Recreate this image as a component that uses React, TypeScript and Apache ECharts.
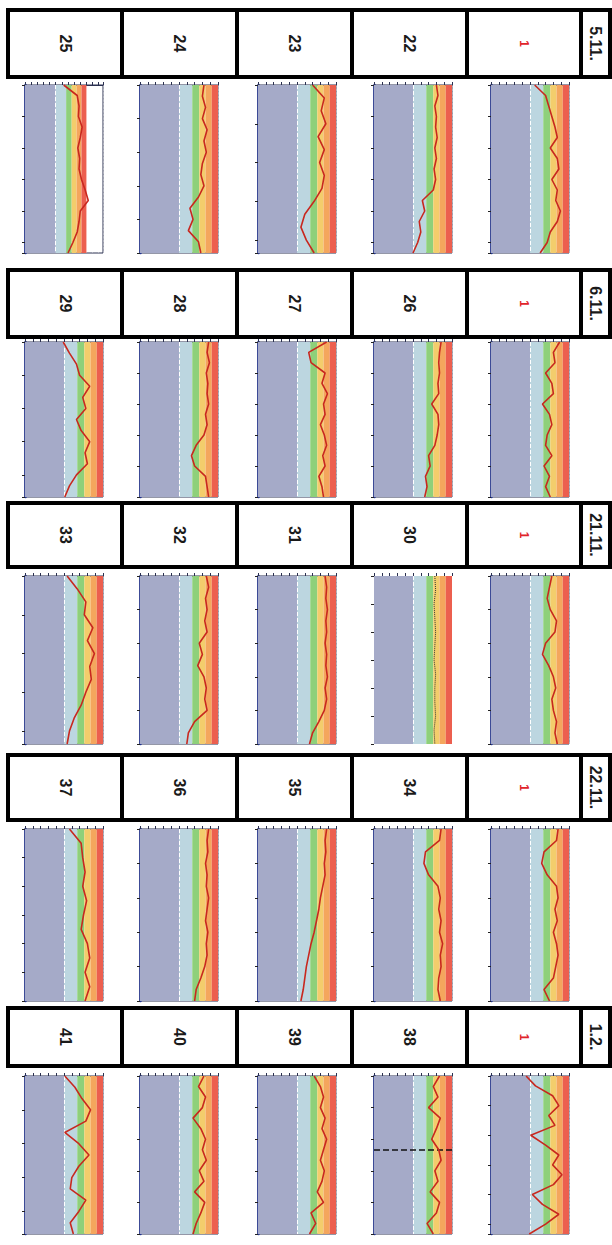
import React, { useEffect, useRef } from "react";
import * as echarts from "echarts";

// Group dates (top-to-bottom bands) and cell labels (left-to-right)
const dates = ["5.11.", "6.11.", "21.11.", "22.11.", "1.2."];
const cellLabels = [
  ["25", "24", "23", "22", "1"],
  ["29", "28", "27", "26", "1"],
  ["33", "32", "31", "30", "1"],
  ["37", "36", "35", "34", "1"],
  ["41", "40", "39", "38", "1"],
];

// Colour zones (value ranges) of every panel
const zoneEdges = [0, 5, 6.7, 7.6, 8.4, 9.2, 10];
const zoneColors = ["#a5aac8", "#bcd6e0", "#8ed07a", "#f3cd6c", "#f4a65d", "#ec5f4f"];

// Traces, read top to bottom in each panel
const tr25 = [6.3, 8.5, 8.8, 8.7, 9.3, 9.0, 8.6, 8.9, 8.8, 9.2, 9.8, 10.3, 9.0, 8.8, 8.5, 7.8, 7.0];
const tr24 = [8.2, 8.0, 8.4, 8.0, 8.6, 8.2, 8.5, 8.0, 7.8, 8.2, 7.5, 6.4, 6.8, 6.2, 7.5, 7.8];
const tr23 = [7.0, 8.5, 8.1, 8.7, 7.7, 8.5, 7.9, 8.5, 8.2, 7.2, 6.0, 5.5, 6.2, 7.2];
const tr22 = [8.0, 8.2, 7.8, 8.0, 7.9, 8.1, 7.8, 8.0, 7.7, 7.9, 7.6, 6.2, 6.5, 5.8, 6.0, 5.6, 5.0];
const tr1a = [5.6, 7.0, 7.4, 7.8, 8.2, 8.5, 7.6, 8.5, 8.7, 7.8, 8.5, 8.3, 8.9, 8.5, 7.6, 7.2, 6.3];

const tr29 = [4.9, 5.7, 6.6, 7.0, 8.3, 7.4, 7.8, 6.6, 7.2, 8.3, 7.7, 8.0, 6.6, 5.7, 5.1];
const tr28 = [8.8, 8.6, 8.9, 8.5, 8.7, 8.6, 8.8, 8.4, 8.6, 8.2, 7.2, 6.6, 7.0, 8.4, 8.6, 8.8];
const tr27 = [8.8, 6.5, 6.8, 8.6, 8.2, 8.9, 8.4, 8.6, 8.0, 8.5, 8.8, 8.3, 8.6, 7.8, 8.2, 8.4];
const tr26 = [8.6, 8.4, 8.3, 8.4, 8.2, 8.3, 7.4, 8.2, 8.3, 8.1, 7.8, 7.0, 7.2, 6.6, 6.8, 6.5];
const tr1b = [8.8, 8.0, 8.2, 7.0, 7.8, 8.0, 6.6, 7.5, 7.8, 7.2, 7.0, 7.8, 6.8, 7.5, 7.0, 7.6];

const tr33 = [5.4, 6.7, 7.8, 7.6, 8.7, 8.0, 8.9, 8.3, 8.5, 7.8, 7.2, 6.3, 5.7, 5.4];
const tr32 = [8.5, 8.8, 8.4, 8.6, 8.3, 8.6, 7.6, 8.0, 7.4, 8.2, 8.5, 8.3, 8.6, 7.0, 6.2, 6.0];
const tr31 = [8.6, 8.8, 8.7, 8.9, 8.7, 8.8, 8.6, 8.8, 8.7, 8.9, 8.6, 8.8, 8.5, 7.8, 7.0, 6.6];
const tr30 = [7.8, 7.9, 7.7, 7.8, 7.9, 7.8, 7.7, 7.9, 7.8, 7.8, 7.9, 7.7, 7.8];
const tr1c = [7.8, 7.5, 7.2, 7.6, 8.4, 8.2, 7.0, 6.6, 7.4, 8.0, 8.3, 7.8, 8.0, 8.4, 8.2, 8.5];

const tr37 = [5.7, 7.2, 7.4, 7.7, 7.4, 7.9, 7.5, 7.2, 8.0, 8.3, 7.7, 8.3, 7.7];
const tr36 = [8.8, 8.6, 8.7, 8.4, 8.6, 8.5, 8.8, 8.6, 8.4, 8.7, 8.5, 8.6, 8.3, 7.8, 7.2, 7.0];
const tr35 = [8.8, 8.6, 8.7, 8.5, 8.6, 8.3, 8.0, 7.8, 7.5, 7.2, 6.8, 6.5, 6.2, 6.0, 5.8, 5.5];
const tr34 = [8.6, 8.4, 6.6, 6.4, 7.0, 8.2, 8.5, 8.3, 8.6, 8.4, 8.8, 8.5, 8.6, 8.3, 8.2, 8.5];
const tr1d = [8.6, 8.4, 6.8, 6.5, 7.2, 8.4, 8.6, 8.2, 8.5, 8.0, 8.4, 8.6, 8.3, 8.0, 6.8, 7.5];

const tr41 = [5.1, 6.4, 7.3, 8.4, 7.8, 5.1, 6.9, 8.2, 6.9, 6.0, 5.8, 7.8, 6.9, 5.8, 6.2];
const tr40 = [8.2, 7.5, 8.4, 8.0, 6.8, 7.8, 8.4, 8.0, 8.5, 7.6, 8.2, 7.0, 8.3, 7.8, 7.2, 6.8];
const tr39 = [7.2, 8.0, 8.4, 8.0, 8.6, 8.2, 8.8, 8.4, 8.0, 8.5, 8.2, 7.6, 8.4, 6.8, 7.4, 6.6];
const tr38 = [8.4, 7.6, 8.2, 7.0, 8.5, 8.0, 7.4, 8.3, 8.6, 7.8, 8.2, 7.2, 8.4, 8.0, 6.8, 7.6];
const tr1e = [4.5, 5.7, 7.9, 8.7, 7.4, 8.2, 5.1, 7.0, 8.7, 7.9, 9.1, 8.0, 5.3, 6.6, 8.7, 7.0, 4.9];

const traces = [
  [tr25, tr24, tr23, tr22, tr1a],
  [tr29, tr28, tr27, tr26, tr1b],
  [tr33, tr32, tr31, tr30, tr1c],
  [tr37, tr36, tr35, tr34, tr1d],
  [tr41, tr40, tr39, tr38, tr1e],
];

// Layout
const cellX = [8, 122, 237, 352, 467, 581, 610];
const headerY = [
  [10, 77],
  [270, 337],
  [503, 567],
  [755, 820],
  [1008, 1066],
];
const gridLeft = [25, 140, 258, 374, 491];
const gridW = 78;
const gridTopH = [
  [85, 168],
  [342, 155],
  [576, 168],
  [829, 172],
  [1076, 158],
];

export default function App() {
  const ref = useRef<HTMLDivElement>(null);
  useEffect(() => {
    if (!ref.current) return;
    const chart = echarts.init(ref.current, null, { renderer: "svg" });
    const grids: any[] = [];
    const xAxes: any[] = [];
    const yAxes: any[] = [];
    const series: any[] = [];
    const graphics: any[] = [];

    for (let b = 0; b < 5; b++) {
      const [hy0, hy1] = headerY[b];
      for (let c = 0; c < 6; c++) {
        const x0 = cellX[c];
        const x1 = c === 5 ? cellX[6] : cellX[c + 1];
        graphics.push({
          type: "rect",
          shape: { x: x0, y: hy0, width: x1 - x0, height: hy1 - hy0 },
          style: { fill: "#ffffff", stroke: "#000000", lineWidth: 4 },
          z: 10,
        });
        const isDate = c === 5;
        const lab = isDate ? dates[b] : cellLabels[b][c];
        const isOne = !isDate && lab === "1";
        graphics.push({
          type: "text",
          x: (x0 + x1) / 2,
          y: (hy0 + hy1) / 2,
          rotation: -Math.PI / 2,
          z: 11,
          style: {
            text: lab,
            align: "center",
            verticalAlign: "middle",
            fontFamily: "Liberation Sans",
            fontSize: isDate ? 16 : isOne ? 12 : 16,
            fontWeight: "bold",
            fill: isOne ? "#e0242a" : "#1a1a1a",
          },
        });
      }

      for (let c = 0; c < 5; c++) {
        const k = b * 5 + c;
        const [gt, gh] = gridTopH[b];
        const data = traces[b][c];
        const noFrame = b === 2 && c === 3;
        const xmax = b === 0 && c === 0 ? 12.7 : 10;
        grids.push({
          left: gridLeft[c],
          top: gt,
          width: gridW,
          height: gh,
          show: !noFrame,
          borderColor: "#2a3050",
          borderWidth: 1,
          backgroundColor: "#ffffff",
        });
        xAxes.push({
          type: "value",
          gridIndex: k,
          min: 0,
          max: xmax,
          interval: 1,
          position: "top",
          axisLine: { show: !noFrame, lineStyle: { color: "#2a3050", width: 1 } },
          axisTick: { show: true, inside: false, length: 3, lineStyle: { color: "#2a3050" } },
          axisLabel: { show: false },
          splitLine: {
            show: true,
            lineStyle: { color: "rgba(255,255,255,0.5)", type: "dashed", width: 0.6 },
          },
        });
        yAxes.push({
          type: "value",
          gridIndex: k,
          min: 0,
          max: data.length - 1,
          inverse: true,
          axisLine: { show: !noFrame, lineStyle: { color: "#1f3190", width: 2.5 } },
          axisTick: { show: true, length: 3, lineStyle: { color: "#222" } },
          axisLabel: { show: false },
          splitLine: { show: false },
        });
        const s: any = {
          type: "line",
          xAxisIndex: k,
          yAxisIndex: k,
          data: data.map((v, i) => [v, i]),
          symbol: "none",
          lineStyle: noFrame
            ? { color: "#333", width: 1, type: "dotted" }
            : { color: "#c8281f", width: 1.6 },
          z: 5,
          markArea: {
            silent: true,
            data: zoneColors.map((col, j) => [
              { xAxis: zoneEdges[j], itemStyle: { color: col } },
              { xAxis: zoneEdges[j + 1] },
            ]),
          },
        };
        const ml: any[] = [{ xAxis: zoneEdges[1] }];
        if (b === 4 && c === 3) ml.push({ yAxis: 7 });
        s.markLine = {
          silent: true,
          symbol: "none",
          label: { show: false },
          lineStyle: { color: "#ffffff", type: "dashed", width: 1 },
          data: ml.map((d) =>
            d.yAxis !== undefined
              ? { ...d, lineStyle: { color: "#111", type: "dashed", width: 1.5 } }
              : d
          ),
        };
        series.push(s);
      }
    }

    chart.setOption({
      animation: false,
      grid: grids,
      xAxis: xAxes,
      yAxis: yAxes,
      series,
      graphic: graphics,
    });
    return () => chart.dispose();
  }, []);

  return (
    <div
      ref={ref}
      style={{ position: "absolute", left: 0, top: 0, width: 612, height: 1245, background: "#fff" }}
    />
  );
}
